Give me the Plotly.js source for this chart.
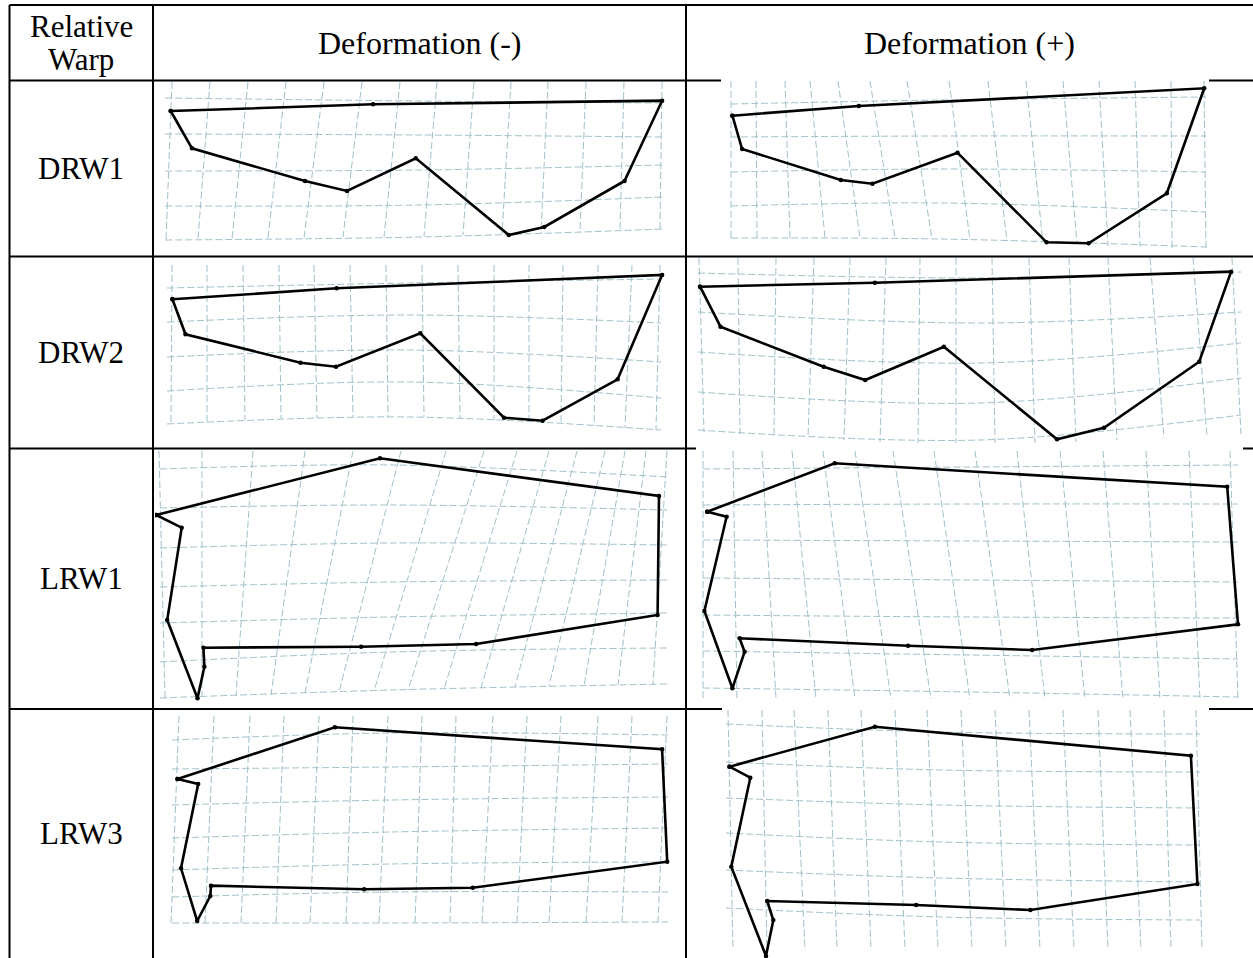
<!DOCTYPE html>
<html><head><meta charset="utf-8">
<script src="https://cdn.plot.ly/plotly-3.0.1.min.js"></script>
<style>html,body{margin:0;padding:0;background:#fff}</style>
</head><body><div id="chart" style="width:1253px;height:958px"></div>
<script>
// ---------- text ----------
const firstHeaderLines = ['Relative', 'Warp'];
const headerLabels = ['Deformation (-)', 'Deformation (+)'];
const rowLabels = ['DRW1', 'DRW2', 'LRW1', 'LRW3'];

// ---------- landmark outlines (reference image pixel frame) ----------
const drw1NegX = [170.7, 373.1, 662.1, 624.5, 544.3, 508.8, 415.8, 347.0, 305.0, 192.0, 170.7];
const drw1NegY = [111.0, 104.3, 100.7, 181.0, 227.0, 235.0, 158.3, 191.0, 181.0, 148.3, 111.0];
const drw1PosX = [732.4, 858.8, 1204.2, 1166.8, 1088.6, 1046.6, 957.5, 872.4, 840.8, 742.1, 732.4];
const drw1PosY = [115.7, 106.0, 88.3, 193.3, 243.3, 242.3, 152.7, 183.7, 180.0, 149.0, 115.7];
const drw2NegX = [172.4, 336.6, 662.1, 617.6, 542.6, 504.0, 420.3, 336.0, 300.5, 185.5, 172.4];
const drw2NegY = [299.3, 288.3, 275.0, 379.3, 420.7, 417.7, 333.3, 366.7, 362.7, 334.3, 299.3];
const drw2PosX = [700.1, 874.9, 1231.1, 1199.2, 1104.0, 1057.0, 943.9, 865.2, 823.6, 720.5, 700.1];
const drw2PosY = [286.7, 282.7, 271.7, 361.7, 427.7, 439.3, 346.7, 380.0, 366.7, 326.7, 286.7];
const lrw1NegX = [156.2, 380.0, 659.0, 657.6, 476.1, 361.1, 203.4, 204.4, 197.5, 167.2, 181.7, 156.2];
const lrw1NegY = [515.0, 458.3, 496.0, 615.0, 644.0, 646.7, 647.7, 666.7, 698.3, 620.0, 527.7, 515.0];
const lrw1PosX = [707.2, 834.7, 1227.2, 1238.0, 1032.2, 908.0, 739.6, 744.6, 732.4, 704.4, 726.6, 707.2];
const lrw1PosY = [511.7, 463.3, 486.7, 624.3, 650.0, 645.7, 638.3, 651.7, 688.3, 611.0, 516.7, 511.7];
const lrw3NegX = [177.5, 334.9, 662.1, 667.2, 472.7, 364.2, 211.0, 210.3, 197.2, 181.0, 198.2, 177.5];
const lrw3NegY = [779.0, 727.3, 749.3, 861.7, 887.7, 889.3, 885.7, 896.0, 921.0, 868.3, 784.0, 779.0];
const lrw3PosX = [729.5, 874.9, 1190.9, 1197.4, 1030.4, 916.2, 767.2, 773.3, 766.0, 731.3, 750.3, 729.5];
const lrw3PosY = [766.7, 726.7, 755.7, 884.0, 910.0, 905.0, 901.0, 920.0, 956.0, 866.7, 777.7, 766.7];

// ---------- deformation grids: vertical lines (x at top / x at bottom, bottom y) ----------
const drw1NegVTop = [172, 210, 248, 286, 324, 362, 400, 437, 474, 511, 548, 586, 624, 662];
const drw1NegVBot = [166, 198, 232, 268, 304, 343, 384, 424, 463, 502, 541, 580, 620, 660];
const drw1NegVBotY = [240, 239, 239, 238, 238, 237, 237, 236, 235, 234, 233, 232, 230, 229];
const drw1PosVTop = [731, 756, 785, 810, 838, 870, 907, 949, 988, 1026, 1063, 1099, 1135, 1171, 1204];
const drw1PosVBot = [731, 757, 790, 825, 860, 895, 932, 970, 1007, 1043, 1077, 1108, 1140, 1172, 1206];
const drw1PosVBotY = [238, 238, 238, 238, 238, 238, 239, 240, 241, 243, 244, 246, 247, 248, 249];
const drw2NegVTop = [172, 207, 243, 279, 314, 350, 386, 422, 458, 494, 529, 563, 598, 632, 660];
const drw2NegVBot = [171, 207, 245, 281, 317, 353, 388, 424, 460, 494, 529, 561, 594, 625, 656];
const drw2NegVBotY = [424, 422, 420, 419, 418, 417, 417, 417, 418, 420, 422, 424, 426, 428, 430];
const drw2PosVTop = [699, 738, 776, 814, 850, 886, 920, 956, 992, 1029, 1069, 1108, 1150, 1193, 1232];
const drw2PosVBot = [704, 740, 774, 808, 844, 880, 918, 956, 995, 1035, 1076, 1117, 1164, 1207, 1241];
const drw2PosVBotY = [432, 434, 436, 438, 440, 442, 443, 443, 443, 443, 442, 440, 438, 436, 434];
const lrw1NegVTop = [159, 202, 253, 305, 353, 401, 446, 484, 517, 549, 577, 605, 625, 646, 667];
const lrw1NegVBot = [165, 202, 236, 271, 305, 339, 374, 408, 444, 481, 515, 549, 584, 618, 653];
const lrw1NegVBotY = [698, 697, 696, 695, 693, 692, 691, 690, 689, 688, 687, 686, 686, 685, 684];
const lrw1PosVTop = [703, 733, 762, 792, 823, 855, 893, 934, 975, 1017, 1060, 1103, 1146, 1189, 1230];
const lrw1PosVBot = [703, 737, 776, 816, 855, 891, 931, 970, 1010, 1045, 1085, 1123, 1160, 1200, 1238];
const lrw1PosVBotY = [699, 699, 699, 699, 699, 699, 699, 699, 699, 699, 700, 700, 700, 700, 700];
const lrw3NegVTop = [179, 214, 250, 284, 319, 353, 388, 422, 456, 493, 527, 561, 598, 632, 667];
const lrw3NegVBot = [171, 205, 241, 276, 310, 346, 379, 415, 450, 482, 517, 549, 586, 622, 658];
const lrw3NegVBotY = [924, 924, 924, 924, 924, 924, 924, 924, 924, 924, 923, 923, 923, 922, 922];
const lrw3PosVTop = [728, 762, 794, 828, 861, 895, 927, 961, 995, 1029, 1063, 1098, 1130, 1164, 1196];
const lrw3PosVBot = [733, 767, 805, 837, 871, 905, 938, 972, 1006, 1040, 1074, 1108, 1141, 1171, 1202];
const lrw3PosVBotY = [950, 950, 950, 950, 950, 950, 950, 950, 950, 950, 950, 950, 950, 950, 950];

// ---------- deformation grids: horizontal lines (y at left / middle / right) ----------
const drw1NegHL = [98, 134, 171, 206, 240];
const drw1NegHM = [101, 135, 170, 205, 237];
const drw1NegHR = [103, 137, 165, 197, 229];
const drw1PosHL = [104, 137, 172, 206, 238];
const drw1PosHM = [100, 136, 169, 203, 239];
const drw1PosHR = [97, 136, 172, 212, 247];
const drw2NegHL = [288, 322, 357, 391, 424];
const drw2NegHM = [283, 315, 350, 382, 417];
const drw2NegHR = [279, 323, 362, 398, 430];
const drw2PosHL = [273, 312, 352, 392, 430];
const drw2PosHM = [278, 323, 363, 403, 440];
const drw2PosHR = [272, 312, 343, 378, 415];
const lrw1NegHL = [469, 508, 548, 587, 623, 662, 698];
const lrw1NegHM = [465, 505, 543, 582, 617, 652, 690];
const lrw1NegHR = [477, 510, 545, 580, 613, 648, 684];
const lrw1PosHL = [469, 505, 540, 578, 615, 651, 688];
const lrw1PosHM = [467, 504, 541, 580, 617, 655, 692];
const lrw1PosHR = [465, 504, 542, 582, 618, 659, 697];
const lrw3NegHL = [740, 769, 805, 838, 870, 897, 923];
const lrw3NegHM = [733, 767, 800, 832, 864, 892, 923];
const lrw3NegHR = [735, 764, 797, 828, 862, 892, 922];
const lrw3PosHL = [724, 762, 798, 833, 870, 908];
const lrw3PosHM = [732, 770, 805, 842, 878, 917];
const lrw3PosHR = [734, 772, 808, 845, 882, 920];

// ---------- layout geometry (page pixels) ----------
const W = 1253, H = 958;
const tableCols = [9.5, 153, 686];          // vertical rules
const tableRows = [5, 80.5, 256.5, 448.5, 709]; // horizontal rules
const colCenters = [81, 419.5, 969];
const rowCenters = [168.5, 352.5, 578.5, 833.5];
const firstHeaderLineY = [26.5, 59.5];

const panels = [
  {box:[160,670,82,250],  gridTop:82,  gx:[165,420,663], px:drw1NegX, py:drw1NegY, vt:drw1NegVTop, vb:drw1NegVBot, vby:drw1NegVBotY, hl:drw1NegHL, hm:drw1NegHM, hr:drw1NegHR},
  {box:[721,1209,78.5,252], gridTop:81, gx:[731,941,1206], px:drw1PosX, py:drw1PosY, vt:drw1PosVTop, vb:drw1PosVBot, vby:drw1PosVBotY, hl:drw1PosHL, hm:drw1PosHM, hr:drw1PosHR},
  {box:[160,668,260,440], gridTop:265, gx:[167,410,661], px:drw2NegX, py:drw2NegY, vt:drw2NegVTop, vb:drw2NegVBot, vby:drw2NegVBotY, hl:drw2NegHL, hm:drw2NegHM, hr:drw2NegHR},
  {box:[696,1243,258,451], gridTop:258, gx:[698,980,1241], px:drw2PosX, py:drw2PosY, vt:drw2PosVTop, vb:drw2PosVBot, vby:drw2PosVBotY, hl:drw2PosHL, hm:drw2PosHM, hr:drw2PosHR},
  {box:[155,672,451,705], gridTop:451, gx:[160,391,667], px:lrw1NegX, py:lrw1NegY, vt:lrw1NegVTop, vb:lrw1NegVBot, vby:lrw1NegVBotY, hl:lrw1NegHL, hm:lrw1NegHM, hr:lrw1NegHR},
  {box:[699,1242,451,705], gridTop:451, gx:[703,970,1238], px:lrw1PosX, py:lrw1PosY, vt:lrw1PosVTop, vb:lrw1PosVBot, vby:lrw1PosVBotY, hl:lrw1PosHL, hm:lrw1PosHM, hr:lrw1PosHR},
  {box:[162,672,712,935], gridTop:716, gx:[172,391,668], px:lrw3NegX, py:lrw3NegY, vt:lrw3NegVTop, vb:lrw3NegVBot, vby:lrw3NegVBotY, hl:lrw3NegHL, hm:lrw3NegHM, hr:lrw3NegHR},
  {box:[722,1209,707,958], gridTop:710, gx:[726,941,1200], px:lrw3PosX, py:lrw3PosY, vt:lrw3PosVTop, vb:lrw3PosVBot, vby:lrw3PosVBotY, hl:lrw3PosHL, hm:lrw3PosHM, hr:lrw3PosHR}
];

const gridColor = 'rgb(160,193,202)';
const serif = '"Liberation Serif", "Times New Roman", serif';
const fx = x => x / W, fy = y => 1 - y / H;

const data = [];
const layout = {
  width: W, height: H, margin: {l:0, r:0, t:0, b:0},
  paper_bgcolor: '#fff', plot_bgcolor: 'rgba(0,0,0,0)',
  showlegend: false, hovermode: false,
  shapes: [], annotations: []
};

panels.forEach((p, i) => {
  const n = i === 0 ? '' : String(i + 1);
  const xa = 'x' + n, ya = 'y' + n;
  const [x0, x1, y0, y1] = p.box;
  layout['xaxis' + n] = {domain:[fx(x0), fx(x1)], range:[x0, x1], visible:false, fixedrange:true, anchor: ya};
  layout['yaxis' + n] = {domain:[fy(y1), fy(y0)], range:[y1, y0], visible:false, fixedrange:true, anchor: xa};
  // white image background covering table rules where the picture overlaps them
  layout.shapes.push({type:'rect', xref:xa, yref:ya, x0:x0, x1:x1, y0:y0, y1:y1,
    fillcolor:'#fff', line:{width:0}, layer:'below'});
  // vertical grid lines
  const vx = [], vy = [];
  p.vt.forEach((t, k) => { vx.push(t, p.vb[k], null); vy.push(p.gridTop, p.vby[k], null); });
  data.push({type:'scatter', mode:'lines', x:vx, y:vy, xaxis:xa, yaxis:ya,
    line:{color:gridColor, width:1, dash:'7px,3px'}, hoverinfo:'skip'});
  // horizontal grid lines
  p.hl.forEach((yl, k) => {
    data.push({type:'scatter', mode:'lines', x:p.gx, y:[yl, p.hm[k], p.hr[k]], xaxis:xa, yaxis:ya,
      line:{color:gridColor, width:1, dash:'7px,3px', shape:'spline', smoothing:1}, hoverinfo:'skip'});
  });
  // landmark outline
  data.push({type:'scatter', mode:'lines+markers', x:p.px, y:p.py, xaxis:xa, yaxis:ya,
    line:{color:'#000', width:2.6}, marker:{color:'#000', size:4.5}, hoverinfo:'skip'});
});

// table rules
const ruleStyle = {color:'#000', width:2};
tableCols.forEach(x => layout.shapes.push({type:'line', xref:'paper', yref:'paper',
  x0:fx(x), x1:fx(x), y0:fy(tableRows[0]), y1:fy(H + 2), line:ruleStyle, layer:'below'}));
tableRows.forEach(y => layout.shapes.push({type:'line', xref:'paper', yref:'paper',
  x0:fx(tableCols[0]), x1:fx(W + 2), y0:fy(y), y1:fy(y), line:ruleStyle, layer:'below'}));

// header and row labels
const textFont = {family:serif, size:31, color:'#000'};
const headY = (tableRows[0] + tableRows[1]) / 2;
firstHeaderLines.forEach((t, i) => layout.annotations.push({text:t, xref:'paper', yref:'paper',
  x:fx(colCenters[0]), y:fy(firstHeaderLineY[i]), xanchor:'center', yanchor:'middle', showarrow:false, font:textFont}));
headerLabels.forEach((t, i) => layout.annotations.push({text:t, xref:'paper', yref:'paper',
  x:fx(colCenters[i + 1]), y:fy(headY), xanchor:'center', yanchor:'middle', showarrow:false,
  font:{family:serif, size:32, color:'#000'}}));
rowLabels.forEach((t, i) => layout.annotations.push({text:t, xref:'paper', yref:'paper',
  x:fx(colCenters[0]), y:fy(rowCenters[i]), xanchor:'center', yanchor:'middle', showarrow:false, font:textFont}));

Plotly.newPlot('chart', data, layout, {staticPlot:true, displayModeBar:false});
</script></body></html>
